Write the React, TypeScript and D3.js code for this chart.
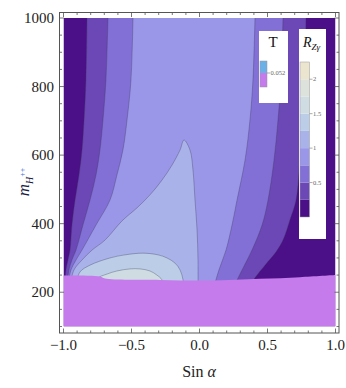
import React from 'react'
import * as d3 from 'd3'

const W = 346, H = 388
const FONT = '"Liberation Serif", "Times New Roman", serif'

// R_Zγ contour levels and the band colours between them
const levels = [0, 0.25, 0.5, 0.75, 1, 1.25, 1.5, 1.75, 2, 2.25]
const bandColors = ['#4b0f87', '#6c47b6', '#8270d6', '#9b97e8', '#a9b2e9', '#bccde7', '#cfdde3', '#dde3dc', '#ebe4cf']
const legendTicks = [0.5, 1, 1.5, 2]

// contour lines as [sin α, m_H++] (top → bottom)
const c025Left: [number, number][] = [[-0.827, 1000], [-0.835, 819], [-0.849, 702], [-0.864, 615], [-0.886, 542], [-0.915, 469], [-0.938, 396], [-0.952, 323], [-0.967, 294], [-0.982, 265], [-0.989, 221]]
const c025Right: [number, number][] = [[0.783, 1000], [0.776, 819], [0.761, 702], [0.739, 586], [0.710, 469], [0.665, 411], [0.614, 352], [0.562, 317], [0.482, 279], [0.408, 242], [0.357, 206]]
const c05Left: [number, number][] = [[-0.673, 1000], [-0.688, 819], [-0.710, 702], [-0.732, 615], [-0.761, 542], [-0.805, 469], [-0.857, 396], [-0.908, 323], [-0.938, 294], [-0.960, 265], [-0.974, 221]]
const c05Right: [number, number][] = [[0.614, 1000], [0.599, 819], [0.577, 702], [0.548, 586], [0.504, 469], [0.460, 396], [0.386, 323], [0.313, 265], [0.239, 206]]
const c075Left: [number, number][] = [[-0.489, 1000], [-0.504, 819], [-0.533, 702], [-0.563, 615], [-0.607, 542], [-0.658, 469], [-0.761, 396], [-0.864, 323], [-0.908, 294], [-0.945, 265], [-0.967, 221]]
const c075Right: [number, number][] = [[0.408, 1000], [0.393, 819], [0.371, 702], [0.335, 586], [0.276, 469], [0.239, 396], [0.195, 323], [0.143, 265], [0.099, 206]]
// closed-ish curves, left foot → right foot
const c1: [number, number][] = [[-0.952, 221], [-0.923, 265], [-0.864, 294], [-0.790, 323], [-0.695, 352], [-0.570, 408], [-0.460, 446], [-0.364, 484], [-0.276, 527], [-0.202, 571], [-0.143, 615], [-0.114, 644], [-0.070, 615], [-0.048, 557], [-0.033, 469], [-0.018, 382], [-0.011, 294], [-0.011, 206]]
const c125: [number, number][] = [[-0.908, 221], [-0.879, 259], [-0.805, 279], [-0.658, 300], [-0.548, 309], [-0.415, 314], [-0.305, 309], [-0.239, 300], [-0.180, 285], [-0.143, 265], [-0.121, 236], [-0.114, 206]]
const c15: [number, number][] = [[-0.776, 206], [-0.754, 239], [-0.680, 253], [-0.607, 262], [-0.511, 268], [-0.438, 268], [-0.364, 262], [-0.313, 250], [-0.276, 236], [-0.261, 206]]

// T = 0.052 boundary (excluded below)
const tEdge: [number, number][] = [[-1, 249], [-0.732, 246], [-0.695, 240], [-0.290, 236], [0.077, 234], [0.445, 239], [0.739, 244], [1, 250]]
const tCut = '0.052'

const xMajor = [-1, -0.5, 0, 0.5, 1]
const yMajor = [200, 400, 600, 800, 1000]

export default function App() {
  const x = d3.scaleLinear().domain([-1, 1]).range([63.5, 335.5])
  const y = d3.scaleLinear().domain([100, 1000]).range([326.5, 18])
  const fx0 = x(-1) - 4, fx1 = x(1) + 3.5, fy0 = y(1000) - 5.5, fy1 = y(100) + 6.5

  const line = d3.line<[number, number]>().x(d => x(d[0])).y(d => y(d[1])).curve(d3.curveCatmullRom.alpha(0.5))
  const band = (l: [number, number][], r: [number, number][]) =>
    (line(l) || '') + (line([...r].reverse()) || '').replace(/^M/, 'L') + 'Z'
  const blob = (c: [number, number][]) => (line(c) || '') + 'Z'
  const pinkArea = d3.area<[number, number]>().x(d => x(d[0])).y0(y(100)).y1(d => y(d[1])).curve(d3.curveCatmullRom.alpha(0.5))

  const regions = [
    { d: band(c025Left, c025Right), fill: bandColors[1] },
    { d: band(c05Left, c05Right), fill: bandColors[2] },
    { d: band(c075Left, c075Right), fill: bandColors[3] },
    { d: blob(c1), fill: bandColors[4] },
    { d: blob(c125), fill: bandColors[5] },
    { d: blob(c15), fill: bandColors[6] },
  ]
  const contourLines = [c025Left, c025Right, c05Left, c05Right, c075Left, c075Right, c1, c125, c15]

  const xMinor = d3.range(-10, 11).map(i => i / 10)
  const yMinor = d3.range(100, 1001, 50)
  const fmt = (v: number) => d3.format('.1f')(v).replace('-', '−')

  const ly = d3.scaleLinear().domain([0, 2.25]).range([217, 62])

  return (
    <svg width={W} height={H} style={{ position: 'absolute', left: 0, top: 0, background: '#fff' }} fontFamily={FONT}>
      <defs>
        <clipPath id="plot"><rect x={x(-1)} y={y(1000)} width={x(1) - x(-1)} height={y(100) - y(1000)} /></clipPath>
      </defs>
      <g clipPath="url(#plot)">
        <rect x={x(-1)} y={y(1000)} width={x(1) - x(-1)} height={y(100) - y(1000)} fill={bandColors[0]} />
        {regions.map((r, i) => <path key={i} d={r.d} fill={r.fill} />)}
        {contourLines.map((c, i) => <path key={i} d={line(c) || ''} fill="none" stroke="#3c3c5a" strokeOpacity={0.5} strokeWidth={0.7} />)}
        <path d={pinkArea(tEdge) || ''} fill="#c57bec" />
      </g>

      {/* frame */}
      <rect x={fx0} y={fy0} width={fx1 - fx0} height={fy1 - fy0} fill="none" stroke="#555" strokeWidth={1} />
      {xMinor.map(v => {
        const maj = xMajor.some(m => Math.abs(m - v) < 1e-6), len = maj ? 4.5 : 2.5
        return <g key={'x' + v} stroke="#555" strokeWidth={0.8}>
          <line x1={x(v)} x2={x(v)} y1={fy1} y2={fy1 - len} />
          <line x1={x(v)} x2={x(v)} y1={fy0} y2={fy0 + len} />
        </g>
      })}
      {yMinor.map(v => {
        const maj = yMajor.includes(v), len = maj ? 4.5 : 2.5
        return <g key={'y' + v} stroke="#555" strokeWidth={0.8}>
          <line x1={fx0} x2={fx0 + len} y1={y(v)} y2={y(v)} />
          <line x1={fx1} x2={fx1 - len} y1={y(v)} y2={y(v)} />
        </g>
      })}
      {xMajor.map(v => <text key={v} x={x(v)} y={350} textAnchor="middle" fontSize={15} fill="#222">{fmt(v)}</text>)}
      {yMajor.map(v => <text key={v} x={54} y={y(v)} dy="0.35em" textAnchor="end" fontSize={15} fill="#222">{v}</text>)}

      {/* axis labels */}
      <text x={199} y={377} textAnchor="middle" fontSize={16} fill="#222">Sin <tspan fontStyle="italic">α</tspan></text>
      <text transform="translate(29,182) rotate(-90)" textAnchor="middle" fill="#1c1c44">
        <tspan fontSize={17} fontStyle="italic">m</tspan>
        <tspan fontSize={10} fontStyle="italic" dy={4}>H</tspan>
        <tspan fontSize={8} dy={-8} fill="#3f6fd8">++</tspan>
      </text>

      {/* T legend */}
      <rect x={259} y={31} width={29} height={72} fill="#fff" />
      <text x={273} y={47} textAnchor="middle" fontSize={15} fill="#111">T</text>
      <rect x={260} y={61} width={7} height={12} fill="#6cb0e8" />
      <rect x={260} y={73} width={7} height={14} fill="#c57bec" />
      <rect x={260} y={61} width={7} height={26} fill="none" stroke="#999" strokeWidth={0.5} />
      <line x1={267} x2={270} y1={73} y2={73} stroke="#777" strokeWidth={0.6} />
      <text x={270.5} y={73} dy="0.35em" fontSize={6.5} fill="#666">{tCut}</text>

      {/* R legend */}
      <rect x={299} y={29} width={27} height={210} fill="#fff" />
      <text x={303} y={47} fontSize={14} fontStyle="italic" fill="#111">R
        <tspan fontSize={9} dy={3}>Zγ</tspan>
      </text>
      {bandColors.map((c, i) => (
        <rect key={i} x={300} y={ly(levels[i + 1])} width={9.5} height={ly(levels[i]) - ly(levels[i + 1])} fill={c} />
      ))}
      <rect x={300} y={ly(2.25)} width={9.5} height={ly(0) - ly(2.25)} fill="none" stroke="#999" strokeWidth={0.5} />
      {legendTicks.map(v => (
        <g key={v}>
          <line x1={309.5} x2={312.5} y1={ly(v)} y2={ly(v)} stroke="#777" strokeWidth={0.6} />
          <text x={313} y={ly(v)} dy="0.35em" fontSize={6.5} fill="#666">{v}</text>
        </g>
      ))}
    </svg>
  )
}
